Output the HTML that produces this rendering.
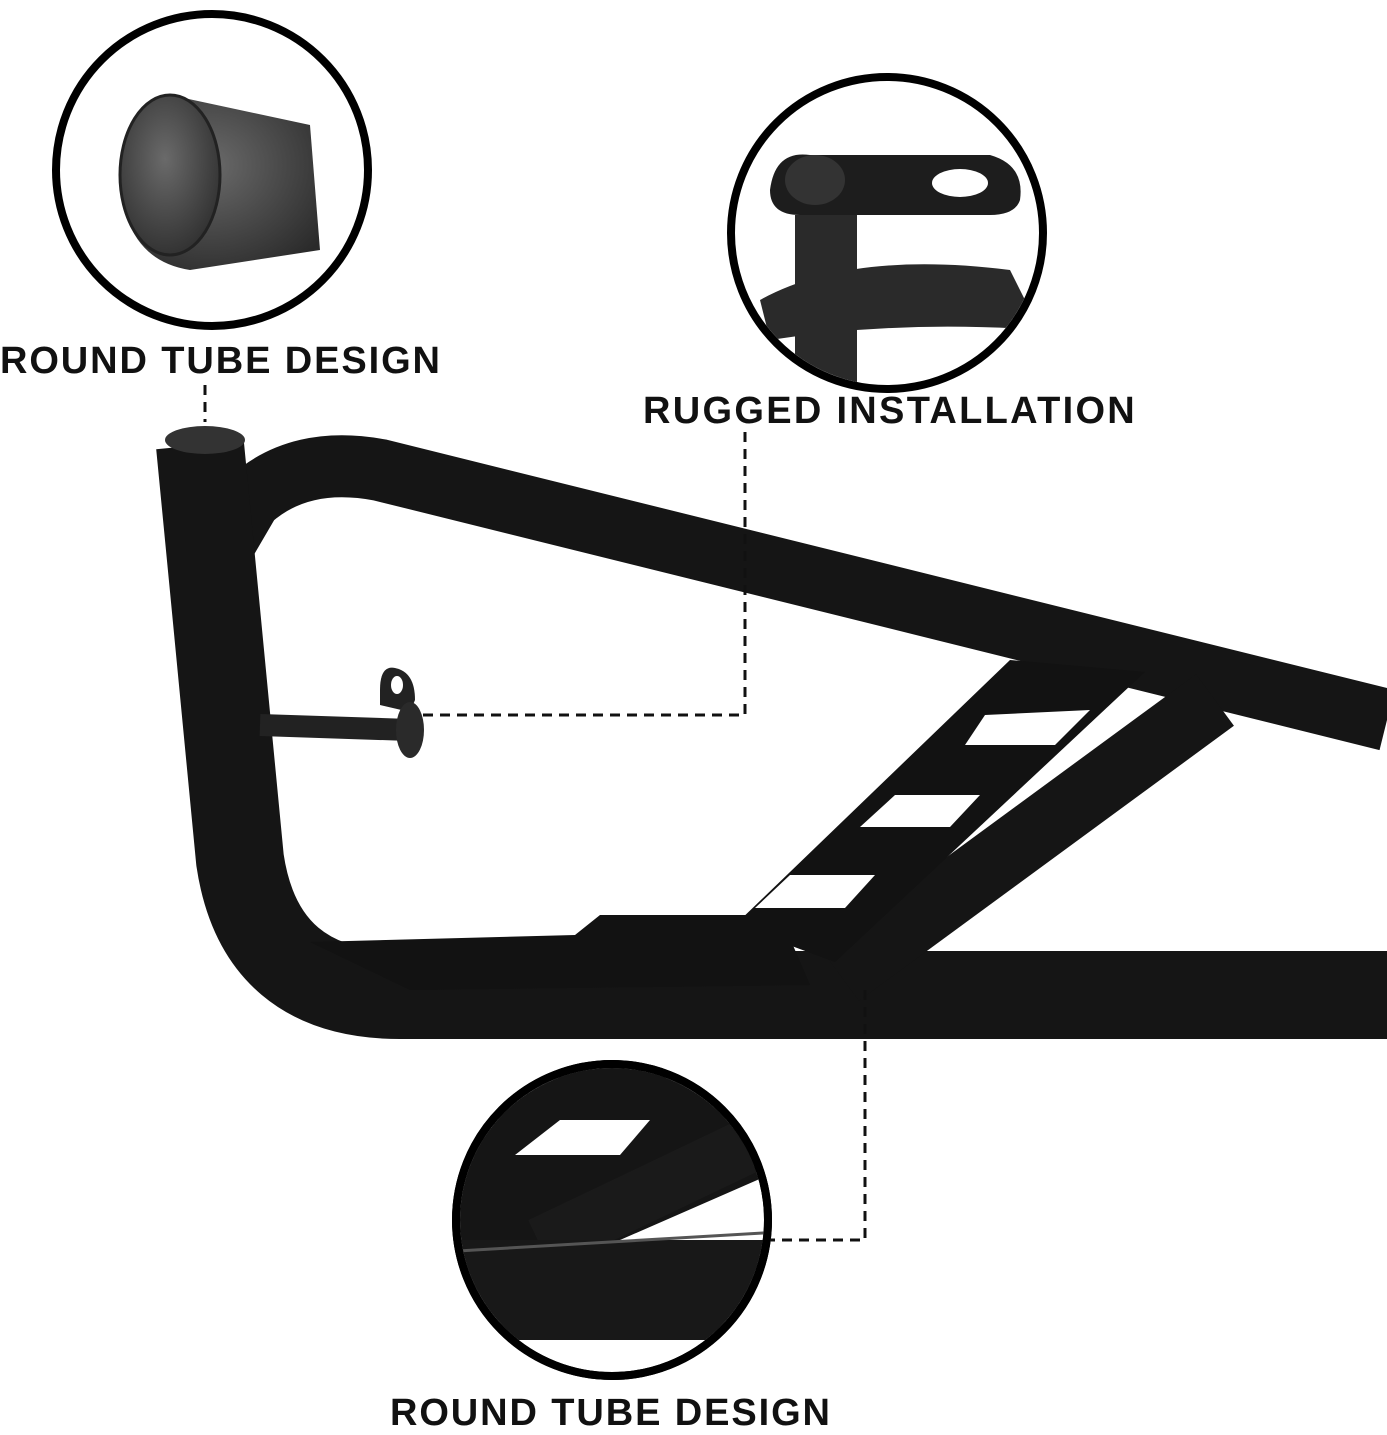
<!DOCTYPE html>
<html><head><style>
html,body{margin:0;padding:0;background:#fff;}
body{width:1387px;height:1431px;position:relative;overflow:hidden;font-family:"Liberation Sans",sans-serif;}
.l{position:absolute;font-weight:bold;font-size:38px;color:#111;letter-spacing:1.9px;white-space:nowrap;}
</style></head><body>
<svg width="1387" height="1431" style="position:absolute;left:0;top:0">
<defs>
<radialGradient id="g1" cx="0.45" cy="0.4" r="0.7"><stop offset="0" stop-color="#6a6a6a"/><stop offset="1" stop-color="#2a2a2a"/></radialGradient>
<clipPath id="c2"><circle cx="887" cy="233" r="152"/></clipPath>
<clipPath id="c3"><circle cx="612" cy="1220" r="152"/></clipPath>
</defs>
<g fill="none" stroke="#151515" stroke-linecap="butt" stroke-linejoin="round">
<path d="M1387,720 L380,470 Q300,455 250,500 L215,560" stroke-width="62"/>
<path d="M200,445 L215,600 L240,860 Q260,995 400,995 L1387,995" stroke-width="88"/>
<path d="M1215,700 L840,975" stroke-width="64"/>
<path d="M260,725 L410,730" stroke-width="22" stroke="#222"/>
</g>
<ellipse cx="205" cy="440" rx="40" ry="14" fill="#333"/>
<path d="M380,690 Q380,665 395,668 Q415,672 415,700 L410,712 L380,705 Z" fill="#222"/>
<ellipse cx="397" cy="685" rx="6" ry="9" fill="#fff"/>
<ellipse cx="410" cy="730" rx="14" ry="28" fill="#2a2a2a"/>
<polygon points="1010,660 1145,672 835,962 735,925" fill="#121212"/>
<polygon points="310,942 575,935 600,915 780,915 810,985 410,990" fill="#121212"/>
<polygon points="985,715 1090,710 1055,745 965,745" fill="#fff"/>
<polygon points="895,795 980,795 950,827 860,827" fill="#fff"/>
<polygon points="790,875 875,875 845,908 755,908" fill="#fff"/>
<circle cx="212" cy="170" r="156" fill="#fff" stroke="#000" stroke-width="8"/>
<path d="M120,180 Q120,110 170,95 L310,125 L320,250 L190,270 Q125,260 120,180Z" fill="url(#g1)"/>
<ellipse cx="170" cy="175" rx="50" ry="80" fill="url(#g1)" stroke="#222" stroke-width="3"/>
<circle cx="887" cy="233" r="156" fill="#fff" stroke="#000" stroke-width="8"/>
<g clip-path="url(#c2)">
<path d="M760,300 Q850,250 1010,270 L1040,330 Q900,320 770,340Z" fill="#2a2a2a"/>
<rect x="795" y="215" width="62" height="170" fill="#2a2a2a"/>
<path d="M770,190 Q775,150 810,155 L990,155 Q1025,165 1020,200 Q1015,215 990,215 L800,215 Q770,215 770,190Z" fill="#1d1d1d"/>
<ellipse cx="960" cy="183" rx="28" ry="14" fill="#fff"/>
<ellipse cx="815" cy="180" rx="30" ry="25" fill="#333"/>
</g>
<circle cx="612" cy="1220" r="156" fill="#fff" stroke="#000" stroke-width="8"/>
<g clip-path="url(#c3)">
<polygon points="440,1060 800,1060 780,1170 620,1240 440,1240" fill="#151515"/>
<polygon points="560,1120 650,1120 620,1155 515,1155" fill="#fff"/>
<path d="M540,1245 L760,1140" stroke="#1a1a1a" stroke-width="55"/>
<rect x="440" y="1240" width="340" height="100" fill="#181818"/>
<path d="M440,1252 L780,1232" stroke="#555" stroke-width="3"/>
</g>
<circle cx="612" cy="1220" r="156" fill="none" stroke="#000" stroke-width="8"/>
<g stroke="#111" stroke-width="3" stroke-dasharray="10,7" fill="none">
<path d="M205,385 L205,422"/>
<path d="M745,432 L745,715 L420,715"/>
<path d="M865,990 L865,1240 L770,1240"/>
</g>
</svg>
<div class="l" style="left:0;top:340px">ROUND TUBE DESIGN</div>
<div class="l" style="left:643px;top:390px;letter-spacing:2.3px">RUGGED INSTALLATION</div>
<div class="l" style="left:390px;top:1392px">ROUND TUBE DESIGN</div>
</body></html>
